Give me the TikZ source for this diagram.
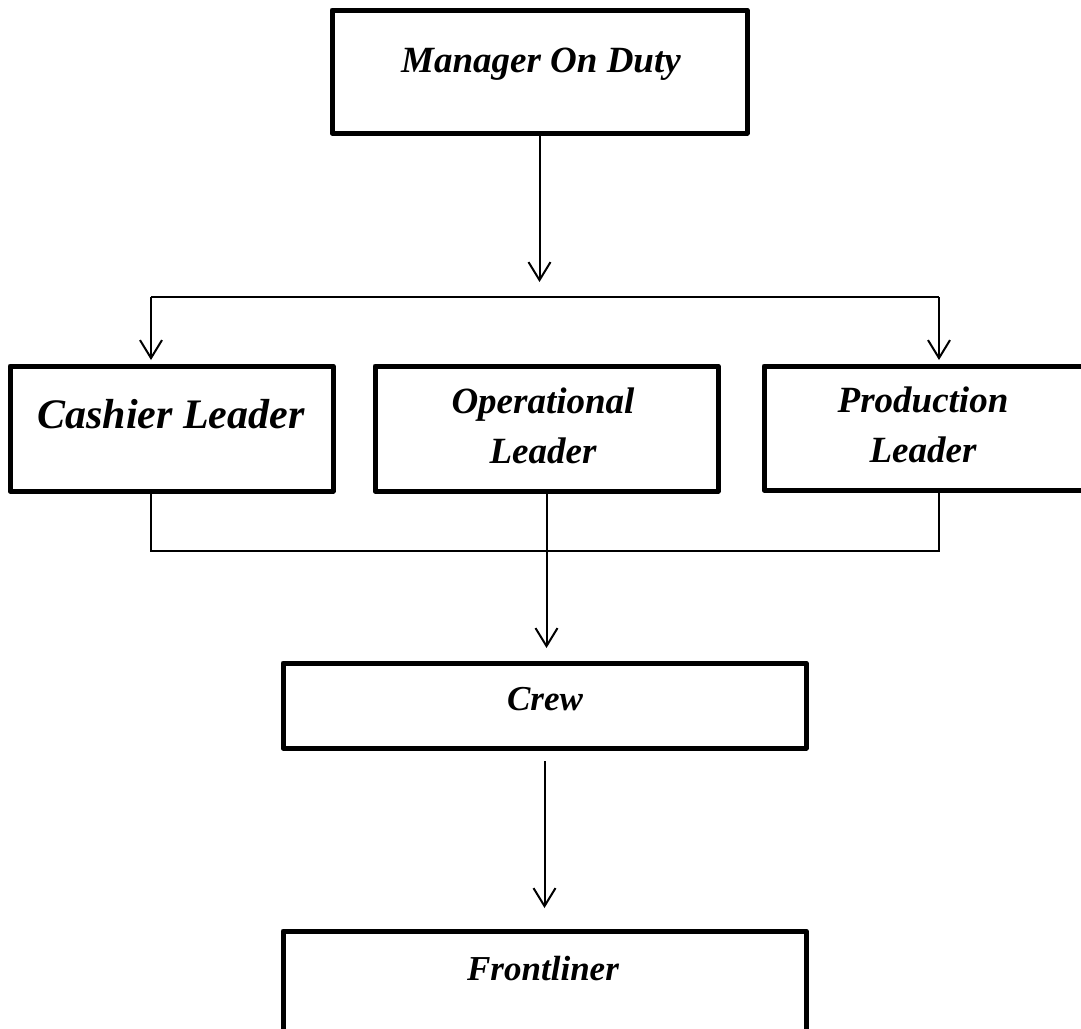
\documentclass[tikz,border=0pt]{standalone}
\usepackage{fontspec}
\setmainfont{Liberation Serif}
\usetikzlibrary{arrows.meta}
\begin{document}
\begin{tikzpicture}[x=1pt,y=-1pt,
  box/.style={draw, line width=5pt, line join=round, inner sep=0pt, outer sep=0pt, anchor=north west},
  lbl/.style={font=\bfseries\itshape\fontsize{37}{50}\selectfont, align=center, inner sep=0pt, anchor=base},
  conn/.style={line width=1.7pt},
  arr/.style={line width=2pt, -{Straight Barb[length=18pt,width=22pt,line width=2pt]}}]
\clip (0,0) rectangle (1081,1028);
\fill[white] (0,0) rectangle (1081,1028);
% boxes
\node[box, minimum width=415pt, minimum height=123pt] (mgr) at (332,10) {};
\node[box, minimum width=323pt, minimum height=125pt] (cash) at (10,366) {};
\node[box, minimum width=343pt, minimum height=125pt] (oper) at (375,366) {};
\node[box, minimum width=400pt, minimum height=124pt] (prod) at (764,366) {};
\node[box, minimum width=523pt, minimum height=85pt] (crew) at (283,663) {};
\node[box, minimum width=523pt, minimum height=150pt] (front) at (283,931) {};
% labels
\node[lbl] (mgrT) at (541,72) {Manager On Duty};
\node[lbl, font=\bfseries\itshape\fontsize{42}{50}\selectfont] (cashT) at (171,428) {Cashier Leader};
\node[lbl] (operT) at (543,463) {Operational\\Leader};
\node[lbl] (prodT) at (923,462) {Production\\Leader};
\node[lbl, font=\bfseries\itshape\fontsize{35}{50}\selectfont] (crewT) at (545,710) {Crew};
\node[lbl, font=\bfseries\itshape\fontsize{35}{50}\selectfont] (frontT) at (543,980) {Frontliner};
% connectors
\coordinate (split) at (541,282);
\coordinate (tl) at (151,297);
\coordinate (tr) at (939,297);
\coordinate (bl) at (151,551);
\coordinate (br) at (939,551);
\draw[arr] (mgr.south) -- (mgr.south |- split);
\draw[conn] (tl) -- (tr);
\draw[arr, shorten >=6pt] (tl) -- (tl |- cash.north);
\draw[arr, shorten >=6pt] (tr) -- (tr |- prod.north);
\draw[conn] (cash.south -| bl) -- (bl) -- (br) -- (prod.south -| br);
\draw[arr, shorten >=15pt] (oper.south) -- (crew.north -| oper.south);
\draw[arr, shorten <=13pt, shorten >=23pt] (crew.south) -- (front.north);
\end{tikzpicture}
\end{document}
